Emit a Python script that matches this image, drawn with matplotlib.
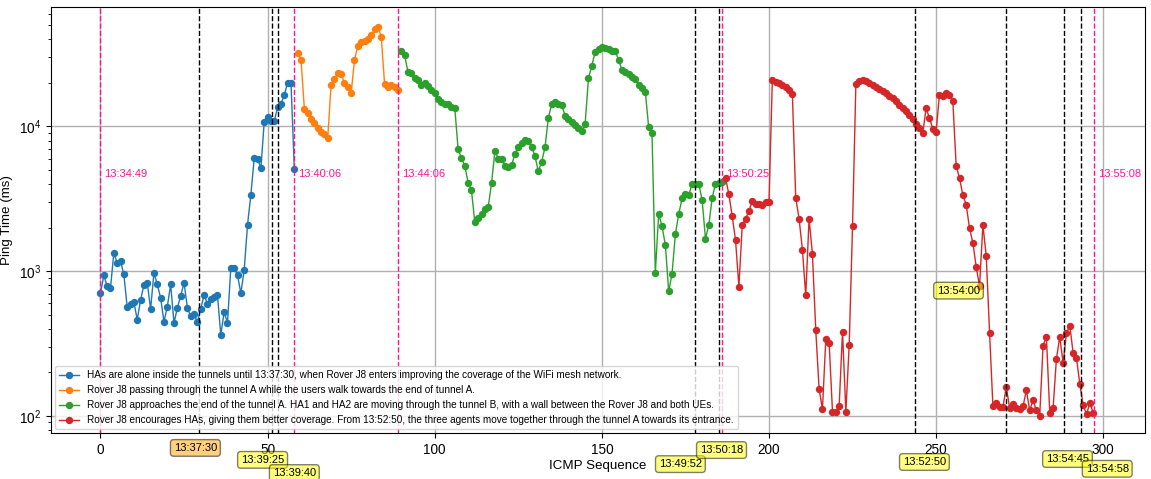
import matplotlib
matplotlib.use('Agg')
import matplotlib.pyplot as plt
import matplotlib.transforms as mtransforms
import numpy as np

plt.rcParams['font.family'] = ['Liberation Sans', 'DejaVu Sans']
plt.rcParams['mathtext.fontset'] = 'custom'
plt.rcParams['mathtext.rm'] = 'Liberation Sans'
plt.rcParams['mathtext.it'] = 'Liberation Sans:italic'
plt.rcParams['mathtext.bf'] = 'Liberation Sans:bold'

# ping times (ms), one list per phase; index = ICMP sequence
blue_start = 0
blue = [703, 933, 789, 764, 1336, 1140, 1172, 948, 564, 588,
        613, 461, 632, 802, 832, 546, 975, 809, 653, 447,
        569, 809, 437, 557, 673, 832, 560, 486, 507, 442,
        551, 684, 597, 639, 666, 688, 361, 523, 440, 1058,
        1058, 933, 706, 1016, 2089, 3380, 6030, 5970, 5150, 10820,
        11590, 10990, 10880, 13580, 14320, 16480, 20140, 20040, 5120]

orange_start = 59
orange = [32060, 28840, 13310, 12490, 11350, 10540, 9790, 9140, 8810, 8350,
          19500, 21200, 23300, 23100, 19900, 18700, 17000, 28840, 36200, 38600,
          39200, 40500, 42700, 46900, 48900, 41800, 19700, 18700, 19300, 18700,
          17900]

green_start = 90
green = [33200, 31000, 23900, 23400, 21600, 20800, 19400, 20100, 19000, 17800,
         17100, 15500, 14800, 14300, 14200, 13650, 13500, 6950, 6050, 5340,
         4075, 3610, 2170, 2315, 2480, 2670, 2770, 4055, 6760, 5990,
         5950, 5340, 5220, 5390, 6490, 7250, 7640, 8010, 7890, 7250,
         6220, 4900, 5690, 7180, 11530, 14300, 14700, 14200, 14020, 11900,
         11350, 10760, 10210, 9740, 9380, 10430, 21600, 26300, 32700, 34600,
         35700, 35000, 34200, 33500, 33000, 28900, 24700, 23800, 23000, 22100,
         21300, 19400, 18400, 17400, 9950, 9040, 968, 2490, 2040, 1520,
         724, 960, 1800, 2480, 3180, 3390, 3360, 4010, 4010, 4010,
         3110, 1680, 2080, 3200, 4010, 4040, 4160]

red_start = 187
red = [4430, 3400, 2395, 1636, 780, 2075, 2295, 2605, 3055, 2930,
       2920, 2885, 2990, 2990, 20800, 20400, 20000, 19400, 18700, 17900, 16800,
       3220, 2310, 1410, 679, 2310, 1310, 390, 153, 111, 340,
       317, 107, 107, 117, 382, 106, 309, 2055, 19800, 20500,
       20870, 20540, 20000, 19370, 18780, 18200, 17540, 16990, 16370, 15770, 15110,
       14090, 13430, 12740, 12020, 11290, 10430, 9690, 8950, 13360, 11470,
       9640, 9140, 16590, 16250, 17020, 16410, 15070, 5370, 4380, 3360,
       2870, 1985, 1565, 1071, 789, 2090, 1268, 373, 116, 123,
       115, 115, 158, 113, 121, 113, 112, 116, 150, 109,
       128, 109, 100, 305, 352, 105, 113, 248, 352, 231,
       373, 419, 271, 251, 165, 118, 103, 122, 105]

labels = [
    'HAs are alone inside the tunnels until 13:37:30, when Rover J8 enters improving the coverage of the WiFi mesh network.',
    'Rover J8 passing through the tunnel A while the users walk towards the end of tunnel A.',
    'Rover J8 approaches the end of the tunnel A. HA1 and HA2 are moving through the tunnel B, with a wall between the Rover J8 and both UEs.',
    'Rover J8 encourages HAs, giving them better coverage. From 13:52:50, the three agents move together through the tunnel A towards its entrance.',
]

# phase boundaries (pink)
phase_x = [0, 58, 89, 186, 297.3]
phase_txt = ['13:34:49', '13:40:06', '13:44:06', '13:50:25', '13:55:08']

# events (black) and where their time labels sit
event_x = [29.6, 51.4, 53.2, 178, 185.1, 243.8, 271, 288.4, 293.4]
event_txt = ['13:37:30', '13:39:25', '13:39:40', '13:49:52', '13:50:18',
             '13:52:50', '13:54:00', '13:54:45', '13:54:58']
label_x = [28.4, 48.5, 58.0, 173.5, 185.8, 246.5, 256.7, 289.3, 301.2]
label_y = [-0.035, -0.063, -0.094, -0.073, -0.040, -0.068, None, -0.061, -0.084]
label_fc = ['orange', 'yellow', 'yellow', 'yellow', 'yellow', 'yellow', 'yellow', 'yellow', 'yellow']

fig = plt.figure(figsize=(11.51, 4.79), dpi=100)
ax = fig.add_axes([0.0443, 0.096, 0.9505, 0.8894])

series = [(blue_start, blue), (orange_start, orange), (green_start, green), (red_start, red)]
for i, (start, vals) in enumerate(series):
    xs = np.arange(start, start + len(vals))
    ax.plot(xs, vals, '-o', color='C%d' % i, lw=1, ms=4.3, label=labels[i])

ax.set_yscale('log')
ax.set_xlim(-14.8, 312.5)
ax.set_ylim(76, 67000)
ax.grid(True, which='major', color='#b0b0b0', lw=1)

for x, t in zip(phase_x, phase_txt):
    ax.axvline(x, color='deeppink', ls='--', lw=1)
    ax.text(x + 1.2, 4700, t, color='deeppink', fontsize=8, ha='left', va='center')

trans = mtransforms.blended_transform_factory(ax.transData, ax.transAxes)
for x, t, lx, ly, fc in zip(event_x, event_txt, label_x, label_y, label_fc):
    ax.axvline(x, color='black', ls='--', lw=1)
    box = dict(boxstyle='round,pad=0.3', fc=fc, alpha=0.5)
    if ly is None:
        ax.text(lx, 733, t, fontsize=8, ha='center', va='center', bbox=box)
    else:
        ax.text(lx, ly, t, fontsize=8, ha='center', va='center', bbox=box,
                transform=trans, clip_on=False)

ax.set_xlabel('ICMP Sequence', fontsize=9.6, labelpad=2)
ax.set_ylabel('Ping Time (ms)', fontsize=9.6)
ax.tick_params(labelsize=9.8)
ax.legend(loc='lower left', fontsize=7.2, borderaxespad=0.4)

fig.savefig('out.png', dpi=100)
